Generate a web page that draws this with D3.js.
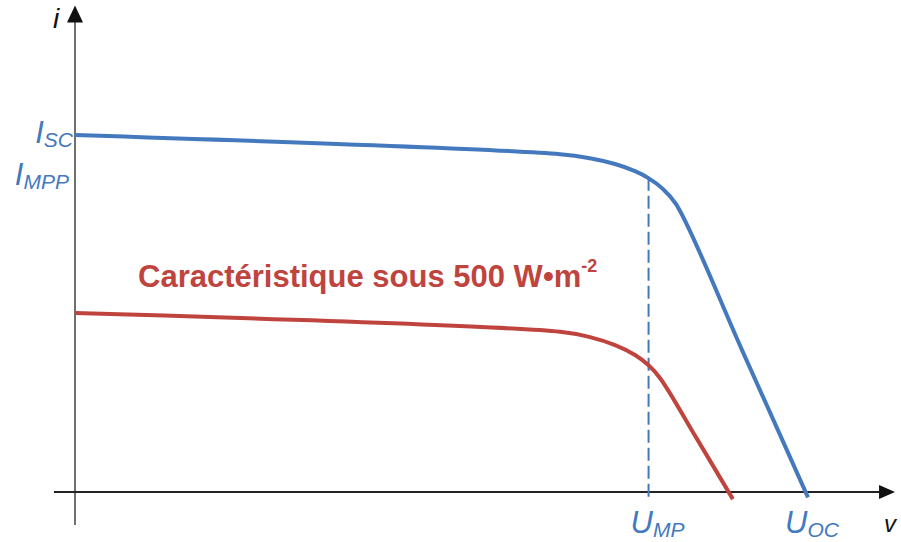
<!DOCTYPE html>
<html>
<head>
<meta charset="utf-8">
<script src="https://cdn.jsdelivr.net/npm/d3@7"></script>
<style>
  body { margin: 0; background: #fff; }
  svg { display: block; font-family: "Liberation Sans", Arial, sans-serif; }
</style>
</head>
<body>
<svg width="901" height="542"></svg>
<script>
// I-V characteristic of a PV panel (arbitrary units: volts / amps)
var uOC = 40, iSC = 8;
var uMP = 31.3, iMPP = 7.04;

// full irradiance curve
var fullU = [0, 26.47, 28.1, 29.47, 30.56, 31.27, 32.03, 32.8, 36.4, 40.0];
var fullI = [8.0, 7.57, 7.48, 7.35, 7.19, 7.04, 6.81, 6.45, 3.18, -0.12];

// 500 W/m2 curve
var halfU = [0, 26.47, 28.1, 29.47, 30.56, 31.27, 31.93, 33.94, 35.9];
var halfI = [4.01, 3.59, 3.47, 3.29, 3.07, 2.85, 2.55, 1.19, -0.16];

var blue = "#4479bd", red = "#c0443e";

var svg = d3.select("svg");
var x = d3.scaleLinear().domain([0, uOC]).range([75, 808]);
var y = d3.scaleLinear().domain([0, iSC]).range([492, 135]);

var line = d3.line()
  .x(function(d) { return x(d[0]); })
  .y(function(d) { return y(d[1]); })
  .curve(d3.curveCatmullRom.alpha(0.5));

// axes
svg.append("line")
  .attr("x1", x(0)).attr("x2", x(0))
  .attr("y1", y(-0.74)).attr("y2", y(10.6))
  .attr("stroke", "#707070").attr("stroke-width", 2);
svg.append("path")
  .attr("d", "M" + x(0) + "," + y(10.9) + "l-8,17h16z")
  .attr("fill", "#111");
svg.append("line")
  .attr("x1", x(-1.15)).attr("x2", x(44.0))
  .attr("y1", y(0)).attr("y2", y(0))
  .attr("stroke", "#222").attr("stroke-width", 2);
svg.append("path")
  .attr("d", "M" + x(44.75) + "," + y(0) + "l-16,-7v14z")
  .attr("fill", "#111");

// dashed U_MP line
svg.append("line")
  .attr("x1", x(uMP)).attr("x2", x(uMP))
  .attr("y1", y(iMPP)).attr("y2", y(-0.18))
  .attr("stroke", blue).attr("stroke-width", 2)
  .attr("stroke-dasharray", "13,5");

// curves
svg.append("path")
  .datum(d3.zip(fullU, fullI))
  .attr("fill", "none")
  .attr("stroke", blue)
  .attr("stroke-width", 4)
  .attr("d", line);
svg.append("path")
  .datum(d3.zip(halfU, halfI))
  .attr("fill", "none")
  .attr("stroke", red)
  .attr("stroke-width", 4)
  .attr("d", line);

// labels
function subLabel(px, py, main, sub, anchor) {
  var t = svg.append("text")
    .attr("x", px).attr("y", py)
    .attr("text-anchor", anchor)
    .attr("font-style", "italic")
    .attr("fill", blue);
  t.append("tspan").attr("font-size", 31).text(main);
  t.append("tspan").attr("font-size", 21).attr("dy", 4).text(sub);
  return t;
}
subLabel(73, y(iSC) + 8, "I", "SC", "end");
subLabel(69, y(iMPP) + 7, "I", "MPP", "end");
subLabel(x(uMP) - 18, 533, "U", "MP", "start");
subLabel(x(uOC) - 23, 533, "U", "OC", "start");

svg.append("text")
  .attr("x", 53).attr("y", 28)
  .attr("font-size", 28).attr("font-style", "italic")
  .attr("fill", "#111").text("i");
svg.append("text")
  .attr("x", 884).attr("y", 532)
  .attr("font-size", 24).attr("font-style", "italic")
  .attr("fill", "#111").text("v");

var cap = svg.append("text")
  .attr("x", 138).attr("y", 287)
  .attr("font-size", 31).attr("font-weight", "bold")
  .attr("fill", red);
cap.append("tspan").text("Caractéristique sous 500 W•m");
cap.append("tspan").attr("font-size", 18).attr("dy", -15).text("-2");
</script>
</body>
</html>
